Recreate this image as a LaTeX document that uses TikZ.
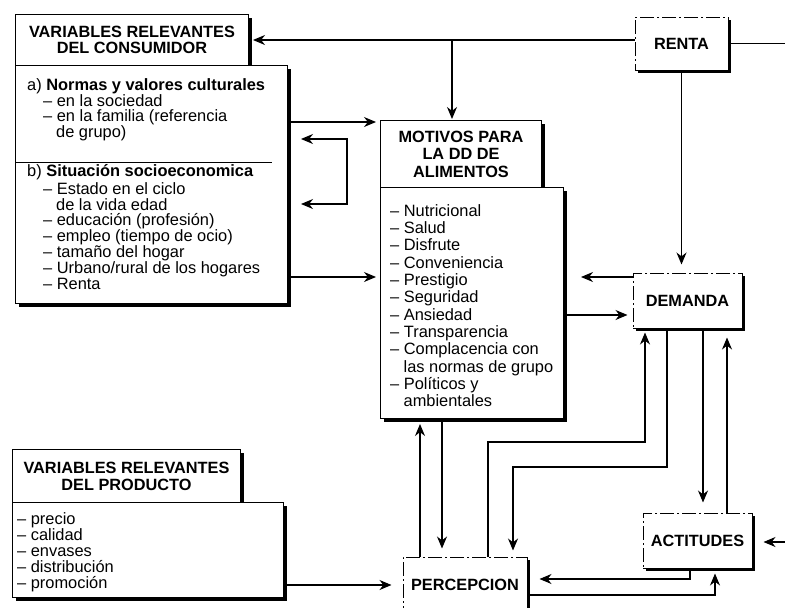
\documentclass[tikz,border=0pt]{standalone}
\usepackage{fontspec}
\setmainfont{Liberation Sans}
\usetikzlibrary{arrows.meta,shadows}

\newcommand{\hdfont}{\fontsize{16.3}{16.5}\selectfont\bfseries}
\newcommand{\txfont}{\fontsize{16.4}{15.8}\selectfont}
\newcommand{\guion}{–\ }

\begin{document}
\begin{tikzpicture}[x=1pt, y=-1pt,
		box/.style={draw, line width=1pt, fill=white, inner sep=0pt,
				drop shadow={opacity=1, fill=black, shadow xshift=3pt, shadow yshift=-3pt}},
		dbox/.style={box, dash pattern=on 14pt off 3pt on 2pt off 3pt, font=\hdfont},
		title/.style={box, align=center, font=\hdfont, anchor=north west},
		txt/.style={align=left, inner sep=0pt, font=\txfont, anchor=north west},
		arr/.style={-{Stealth[length=12pt, width=10pt]}, line width=1.1pt},
		arrr/.style={{Stealth[length=12pt, width=10pt]}-{Stealth[length=12pt, width=10pt]}, line width=1.1pt}
	]
	\useasboundingbox (0,0) rectangle (785,608);
	\clip (0,0) rectangle (785,608);

	% Consumidor
	\node[title, minimum width=233pt, minimum height=51pt] (ctitle) at (15,14) {VARIABLES RELEVANTES\\DEL CONSUMIDOR};
	\node[box, anchor=north west, minimum width=272pt, minimum height=238pt] (cbody) at (15,65) {};
	\node[txt, font=\fontsize{16.4}{15}\selectfont] (cnormas) at (27,78.3) {a) \textbf{Normas y valores culturales}\\
		\hspace*{16pt}\guion en la sociedad\\
		\hspace*{16pt}\guion en la familia (referencia\\
		\hspace*{29pt}de grupo)};
	\draw[line width=1pt] (cbody.west |- 0,162) -- (272,162);
	\node[txt] (csocio) at (27,164.3) {b) \textbf{Situación socioeconomica}\\[2pt]
		\hspace*{16pt}\guion Estado en el ciclo\\
		\hspace*{29pt}de la vida edad\\
		\hspace*{16pt}\guion educación (profesión)\\
		\hspace*{16pt}\guion empleo (tiempo de ocio)\\
		\hspace*{16pt}\guion tamaño del hogar\\
		\hspace*{16pt}\guion Urbano/rural de los hogares\\
		\hspace*{16pt}\guion Renta};

	% Motivos
	\node[title, font=\fontsize{16.3}{17.5}\selectfont\bfseries, minimum width=161pt, minimum height=67pt] (mtitle) at (380,120) {MOTIVOS PARA\\LA DD DE\\ALIMENTOS};
	\node[box, anchor=north west, minimum width=183pt, minimum height=231pt] (mbody) at (380,187) {};
	\node[txt, font=\fontsize{16.4}{17.3}\selectfont] (mlist) at (390,204.3) {\guion Nutricional\\
		\guion Salud\\
		\guion Disfrute\\
		\guion Conveniencia\\
		\guion Prestigio\\
		\guion Seguridad\\
		\guion Ansiedad\\
		\guion Transparencia\\
		\guion Complacencia con\\
		\hspace*{13.5pt}las normas de grupo\\
		\guion Políticos y\\
		\hspace*{13.5pt}ambientales};

	% Producto
	\node[title, font=\fontsize{16.3}{17}\selectfont\bfseries, minimum width=228pt, minimum height=53pt] (ptitle) at (12,449) {VARIABLES RELEVANTES\\DEL PRODUCTO};
	\node[box, anchor=north west, minimum width=271pt, minimum height=95pt] (pbody) at (12,502) {};
	\node[txt, font=\fontsize{16.4}{16}\selectfont] (plist) at (17,512.3) {\guion precio\\
		\guion calidad\\
		\guion envases\\
		\guion distribución\\
		\guion promoción};

	% Cajas de trazos
	\node[dbox, minimum width=93pt, minimum height=53pt] (renta) at (681.5,43.5) {RENTA};
	\node[dbox, minimum width=109pt, minimum height=55pt] (demanda) at (687.5,300.5) {DEMANDA};
	\node[dbox, minimum width=109pt, minimum height=55pt] (actitudes) at (697.5,540.5) {ACTITUDES};
	\node[dbox, minimum width=124pt, minimum height=55pt] (percepcion) at (465,584.5) {PERCEPCION};

	% Puntos libres
	\coordinate (j1) at (452,40);
	\coordinate (redge) at (785,43.5);
	\coordinate (aedge) at (785,542);
	\coordinate (b1) at (347,139);
	\coordinate (b2) at (347,204);

	% Flechas
	\draw[arr, shorten >=4pt] (renta.west |- j1) -- (ctitle.east |- j1);
	\draw[arr, shorten >=1pt] (j1) -- (j1 |- mtitle.north);
	\draw[line width=1.1pt] (renta.east) -- (redge);
	\draw[arr, shorten >=8pt] (renta.south) -- (renta.south |- demanda.north);

	\draw[arr, shorten >=4pt] (cbody.east |- 0,122) -- (mtitle.west |- 0,122);
	\draw[arrr, shorten <=13pt, shorten >=13pt] (b1 -| cbody.east) -- (b1) -- (b2) -- (b2 -| cbody.east);
	\draw[arr, shorten >=4pt] (cbody.east |- 0,277) -- (mbody.west |- 0,277);

	\draw[arr, shorten >=17pt] (demanda.west |- 0,277) -- (mbody.east |- 0,277);
	\draw[arr, shorten >=5pt] (mbody.east |- 0,315) -- (demanda.west |- 0,315);

	\draw[arr, shorten >=4pt] (percepcion.north -| 488,0) |- (645,442) -- (645,0 |- demanda.south);
	\draw[arr, shorten >=6pt] (demanda.south -| 667,0) |- (513,467) -- (513,0 |- percepcion.north);
	\draw[arr, shorten >=10pt] (demanda.south -| 703,0) -- (actitudes.north -| 703,0);
	\draw[arr, shorten >=9pt] (actitudes.north -| 727,0) -- (demanda.south -| 727,0);

	\draw[arr, shorten >=11pt] (aedge) -- (actitudes.east |- aedge);
	\draw[arr, shorten >=12pt] (actitudes.south -| 690,0) |- (percepcion.east |- 0,579);
	\draw[arr, shorten >=5pt] (percepcion.east |- 0,595) -| (actitudes.south -| 715,0);

	\draw[arr, shorten >=5pt] (percepcion.north -| 420,0) -- (mbody.south -| 420,0);
	\draw[arr, shorten >=8pt] (mbody.south -| 442,0) -- (percepcion.north -| 442,0);
	\draw[arr, shorten >=11pt] (pbody.east |- 0,585) -- (percepcion.west |- 0,585);
\end{tikzpicture}
\end{document}
